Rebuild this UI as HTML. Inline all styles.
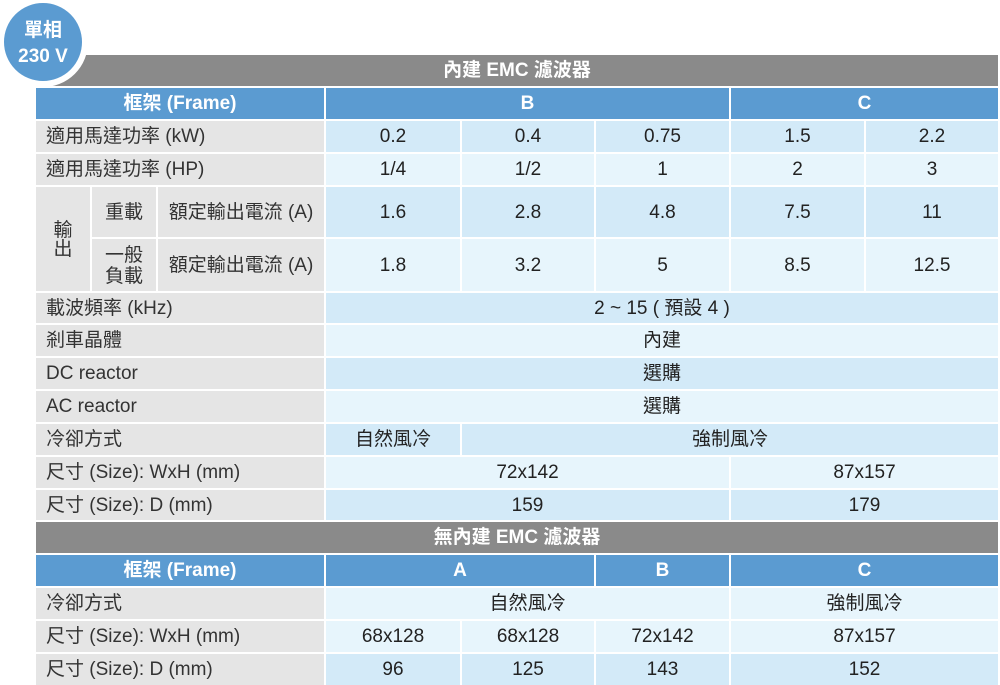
<!DOCTYPE html>
<html>
<head>
<meta charset="utf-8">
<style>
html,body{margin:0;padding:0;background:#fff;}
body{width:1000px;height:685px;position:relative;overflow:hidden;font-family:"Liberation Sans","Noto Sans CJK TC",sans-serif;font-size:19px;color:#333;}
.c{position:absolute;display:flex;align-items:center;justify-content:center;text-align:center;box-sizing:border-box;line-height:1.15;padding-top:1px;}
.l{justify-content:flex-start;padding-left:10px;}
.G{background:#e5e5e5;}
.D{background:#d3eaf8;color:#222;}
.L{background:#e7f5fc;color:#222;}
.H{background:#5b9bd1;color:#fff;font-weight:bold;}
.bar{background:#8a8a8a;color:#fff;font-weight:bold;}
.circ{position:absolute;left:-2px;top:-3px;width:90px;height:90px;border-radius:50%;background:#5b9bd1;border:6px solid #fff;box-sizing:border-box;color:#fff;font-weight:bold;font-size:19px;text-align:center;}
</style>
</head>
<body>
<!-- top bar -->
<div class="c bar" style="left:36px;top:55px;width:962px;height:31px;">內建 EMC 濾波器</div>
<div class="circ"><div style="position:absolute;left:0;right:0;top:17px;line-height:22px;">單相</div><div style="position:absolute;left:0;right:0;top:43px;line-height:22px;">230 V</div></div>

<!-- header -->
<div class="c H" style="left:36px;top:88px;width:288px;height:31px;">框架 (Frame)</div>
<div class="c H" style="left:326px;top:88px;width:403px;height:31px;">B</div>
<div class="c H" style="left:731px;top:88px;width:267px;height:31px;">C</div>

<!-- kW -->
<div class="c G l" style="left:36px;top:121px;width:288px;height:31px;">適用馬達功率 (kW)</div>
<div class="c D" style="left:326px;top:121px;width:134px;height:31px;">0.2</div>
<div class="c D" style="left:462px;top:121px;width:132px;height:31px;">0.4</div>
<div class="c D" style="left:596px;top:121px;width:133px;height:31px;">0.75</div>
<div class="c D" style="left:731px;top:121px;width:133px;height:31px;">1.5</div>
<div class="c D" style="left:866px;top:121px;width:132px;height:31px;">2.2</div>

<!-- HP -->
<div class="c G l" style="left:36px;top:154px;width:288px;height:31px;">適用馬達功率 (HP)</div>
<div class="c L" style="left:326px;top:154px;width:134px;height:31px;">1/4</div>
<div class="c L" style="left:462px;top:154px;width:132px;height:31px;">1/2</div>
<div class="c L" style="left:596px;top:154px;width:133px;height:31px;">1</div>
<div class="c L" style="left:731px;top:154px;width:133px;height:31px;">2</div>
<div class="c L" style="left:866px;top:154px;width:132px;height:31px;">3</div>

<!-- output -->
<div class="c G" style="left:36px;top:187px;width:54px;height:104px;line-height:19px;">輸<br>出</div>
<div class="c G" style="left:92px;top:187px;width:64px;height:50px;">重載</div>
<div class="c G" style="left:158px;top:187px;width:166px;height:50px;">額定輸出電流 (A)</div>
<div class="c D" style="left:326px;top:187px;width:134px;height:50px;">1.6</div>
<div class="c D" style="left:462px;top:187px;width:132px;height:50px;">2.8</div>
<div class="c D" style="left:596px;top:187px;width:133px;height:50px;">4.8</div>
<div class="c D" style="left:731px;top:187px;width:133px;height:50px;">7.5</div>
<div class="c D" style="left:866px;top:187px;width:132px;height:50px;">11</div>

<div class="c G" style="left:92px;top:239px;width:64px;height:52px;line-height:21px;">一般<br>負載</div>
<div class="c G" style="left:158px;top:239px;width:166px;height:52px;">額定輸出電流 (A)</div>
<div class="c L" style="left:326px;top:239px;width:134px;height:52px;">1.8</div>
<div class="c L" style="left:462px;top:239px;width:132px;height:52px;">3.2</div>
<div class="c L" style="left:596px;top:239px;width:133px;height:52px;">5</div>
<div class="c L" style="left:731px;top:239px;width:133px;height:52px;">8.5</div>
<div class="c L" style="left:866px;top:239px;width:132px;height:52px;">12.5</div>

<!-- kHz -->
<div class="c G l" style="left:36px;top:293px;width:288px;height:30px;">載波頻率 (kHz)</div>
<div class="c D" style="left:326px;top:293px;width:672px;height:30px;">2 ~ 15 ( 預設 4 )</div>

<div class="c G l" style="left:36px;top:325px;width:288px;height:31px;">剎車晶體</div>
<div class="c L" style="left:326px;top:325px;width:672px;height:31px;">內建</div>

<div class="c G l" style="left:36px;top:358px;width:288px;height:31px;">DC reactor</div>
<div class="c D" style="left:326px;top:358px;width:672px;height:31px;">選購</div>

<div class="c G l" style="left:36px;top:391px;width:288px;height:31px;">AC reactor</div>
<div class="c L" style="left:326px;top:391px;width:672px;height:31px;">選購</div>

<div class="c G l" style="left:36px;top:424px;width:288px;height:31px;">冷卻方式</div>
<div class="c D" style="left:326px;top:424px;width:134px;height:31px;">自然風冷</div>
<div class="c D" style="left:462px;top:424px;width:536px;height:31px;">強制風冷</div>

<div class="c G l" style="left:36px;top:457px;width:288px;height:31px;">尺寸 (Size): WxH (mm)</div>
<div class="c L" style="left:326px;top:457px;width:403px;height:31px;">72x142</div>
<div class="c L" style="left:731px;top:457px;width:267px;height:31px;">87x157</div>

<div class="c G l" style="left:36px;top:490px;width:288px;height:30px;">尺寸 (Size): D (mm)</div>
<div class="c D" style="left:326px;top:490px;width:403px;height:30px;">159</div>
<div class="c D" style="left:731px;top:490px;width:267px;height:30px;">179</div>

<!-- bottom section -->
<div class="c bar" style="left:36px;top:522px;width:962px;height:31px;">無內建 EMC 濾波器</div>

<div class="c H" style="left:36px;top:555px;width:288px;height:31px;">框架 (Frame)</div>
<div class="c H" style="left:326px;top:555px;width:268px;height:31px;">A</div>
<div class="c H" style="left:596px;top:555px;width:133px;height:31px;">B</div>
<div class="c H" style="left:731px;top:555px;width:267px;height:31px;">C</div>

<div class="c G l" style="left:36px;top:588px;width:288px;height:31px;">冷卻方式</div>
<div class="c L" style="left:326px;top:588px;width:403px;height:31px;">自然風冷</div>
<div class="c L" style="left:731px;top:588px;width:267px;height:31px;">強制風冷</div>

<div class="c G l" style="left:36px;top:621px;width:288px;height:31px;">尺寸 (Size): WxH (mm)</div>
<div class="c L" style="left:326px;top:621px;width:134px;height:31px;">68x128</div>
<div class="c L" style="left:462px;top:621px;width:132px;height:31px;">68x128</div>
<div class="c L" style="left:596px;top:621px;width:133px;height:31px;">72x142</div>
<div class="c L" style="left:731px;top:621px;width:267px;height:31px;">87x157</div>

<div class="c G l" style="left:36px;top:654px;width:288px;height:31px;">尺寸 (Size): D (mm)</div>
<div class="c D" style="left:326px;top:654px;width:134px;height:31px;">96</div>
<div class="c D" style="left:462px;top:654px;width:132px;height:31px;">125</div>
<div class="c D" style="left:596px;top:654px;width:133px;height:31px;">143</div>
<div class="c D" style="left:731px;top:654px;width:267px;height:31px;">152</div>
</body>
</html>
